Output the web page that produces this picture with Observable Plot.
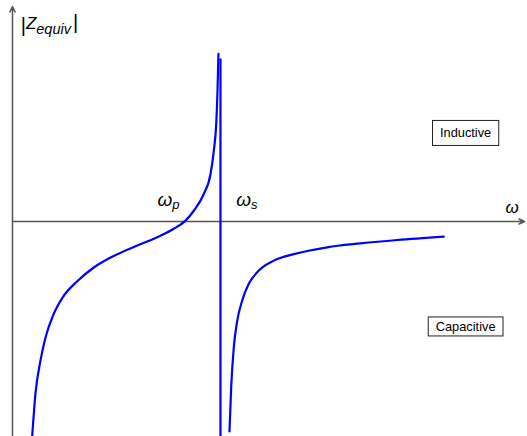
<!DOCTYPE html>
<html>
<head>
<meta charset="utf-8">
<script src="https://cdn.jsdelivr.net/npm/d3@7"></script>
<script src="https://cdn.jsdelivr.net/npm/@observablehq/plot@0.6"></script>
<style>
  html, body { margin: 0; padding: 0; background: #fff; }
  #chart svg { display: block; }
</style>
</head>
<body>
<div id="chart"></div>
<script>
// Reactance |Z_equiv| of a crystal resonator versus angular frequency ω.
// Below the pole: rising branch crossing zero at ωp; above it: capacitive branch.
const omegaLow = [0.385, 0.449, 0.547, 0.645, 0.791, 0.977, 1.264, 1.588, 1.979, 2.436, 2.891, 3.150, 3.379, 3.541, 3.736, 3.867, 3.932, 3.979, 4.004, 4.023];
const zLow     = [-4.98, -4.00, -3.23, -2.70, -2.19, -1.77, -1.39, -1.07, -0.80, -0.56, -0.33, -0.17, 0.02, 0.25, 0.64, 1.10, 1.65, 2.27, 3.04, 3.90];

const omegaHigh = [4.238, 4.271, 4.322, 4.389, 4.486, 4.615, 4.811, 5.104, 5.494, 6.146, 6.797, 7.514, 8.424];
const zHigh     = [-4.88, -3.86, -2.93, -2.31, -1.84, -1.45, -1.14, -0.91, -0.76, -0.60, -0.51, -0.43, -0.35];

// the jump across the pole
const poleOmega = 4.062;
const poleTop = 3.78;
const poleBottom = -5.0;

// axis extents
const omegaMax = 10;
const zMin = -5;
const zMax = 5;

// symbol labels: base text and subscript
const symbolText = ["ω", "ω"];
const symbolSub  = ["p", "s"];
const symbolOmega = [2.83, 4.37];
const symbolZ     = [0.37, 0.37];

const axisTitleOmega = 9.63;
const axisTitleZ = 0.19;

const regionNames = ["Inductive", "Capacitive"];
const regionOmega = [8.85, 8.85];
const regionZ     = [2.05, -2.45];

const curve = [
  ...omegaLow.map((w, i) => ({omega: w, z: zLow[i], branch: "low"})),
  ...omegaHigh.map((w, i) => ({omega: w, z: zHigh[i], branch: "high"}))
];
const symbols = symbolText.map((t, i) => ({text: t, sub: symbolSub[i], omega: symbolOmega[i], z: symbolZ[i]}));
const regions = regionNames.map((t, i) => ({text: t, omega: regionOmega[i], z: regionZ[i]}));

const chart = Plot.plot({
  width: 527,
  height: 436,
  marginLeft: 12,
  marginRight: 3,
  marginTop: 6,
  marginBottom: 0,
  style: {background: "#fff", fontFamily: "'Liberation Sans', Arial, sans-serif"},
  x: {domain: [0, omegaMax], axis: null},
  y: {domain: [zMin, zMax], axis: null},
  marks: [
    // axes with arrow heads
    Plot.arrow([{x1: 0, y1: 0, x2: omegaMax, y2: 0}], {x1: "x1", y1: "y1", x2: "x2", y2: "y2", stroke: "#555", strokeWidth: 1.5, headLength: 6, headAngle: 50}),
    Plot.arrow([{x1: 0, y1: zMin, x2: 0, y2: zMax}], {x1: "x1", y1: "y1", x2: "x2", y2: "y2", stroke: "#555", strokeWidth: 1.5, headLength: 6, headAngle: 50}),
    // reactance branches
    Plot.line(curve, {x: "omega", y: "z", z: "branch", stroke: "#0000ff", strokeWidth: 2.2, curve: "monotone-x"}),
    Plot.ruleX([poleOmega], {y1: poleBottom, y2: poleTop, stroke: "#0000ff", strokeWidth: 2.2}),
    // ω_p and ω_s
    Plot.text(symbols, {x: "omega", y: "z", text: "text", textAnchor: "start", lineAnchor: "bottom", fontSize: 19, fontStyle: "italic", fill: "#000"}),
    // axis titles
    Plot.text(["ω"], {x: axisTitleOmega, y: axisTitleZ, text: d => d, textAnchor: "start", lineAnchor: "bottom", fontSize: 17, fontStyle: "italic", fill: "#000"}),
    Plot.text(["Z"], {x: 0.16, y: 4.47, text: d => d, textAnchor: "start", lineAnchor: "bottom", fontSize: 16, fill: "#000"}),
    // region annotations
    Plot.text(regions, {x: "omega", y: "z", text: "text", fontSize: 12.8, fill: "#000"})
  ]
});

document.getElementById("chart").appendChild(chart);
const textGroups = chart.querySelectorAll("g[aria-label=text]");
const [symbolGroup, , zTitleGroup, regionGroup] = textGroups;

// subscripts on ω_p, ω_s
d3.select(symbolGroup).selectAll("text").each(function(d, i) {
  const t = d3.select(this);
  t.text(null);
  t.append("tspan").text(symbols[i].text);
  t.append("tspan").attr("dy", "0.3em").attr("font-size", 13).text(symbols[i].sub);
});

// |Z_equiv|
d3.select(zTitleGroup).selectAll("text").each(function() {
  const t = d3.select(this);
  t.text(null);
  t.append("tspan").attr("font-size", 20).attr("dy", "0.12em").text("|");
  t.append("tspan").attr("font-size", 17).attr("dy", "-0.15em").attr("font-style", "italic").text("Z");
  t.append("tspan").attr("font-size", 14.5).attr("dy", "0.35em").attr("font-style", "italic").text("equiv");
  t.append("tspan").attr("font-size", 20).attr("dy", "-0.25em").attr("dx", 2).text("|");
});

// boxes round the region annotations
const padY = [6, 3];
d3.select(regionGroup).selectAll("text").each(function(d, i) {
  const b = this.getBBox();
  d3.select(this.parentNode).insert("rect", () => this)
    .attr("transform", this.getAttribute("transform"))
    .attr("x", b.x - 7.5)
    .attr("y", b.y - padY[i] + 1)
    .attr("width", b.width + 15)
    .attr("height", b.height + 2 * padY[i] - 2)
    .attr("fill", "#fff")
    .attr("stroke", "#222")
    .attr("stroke-width", 1);
});
</script>
</body>
</html>
